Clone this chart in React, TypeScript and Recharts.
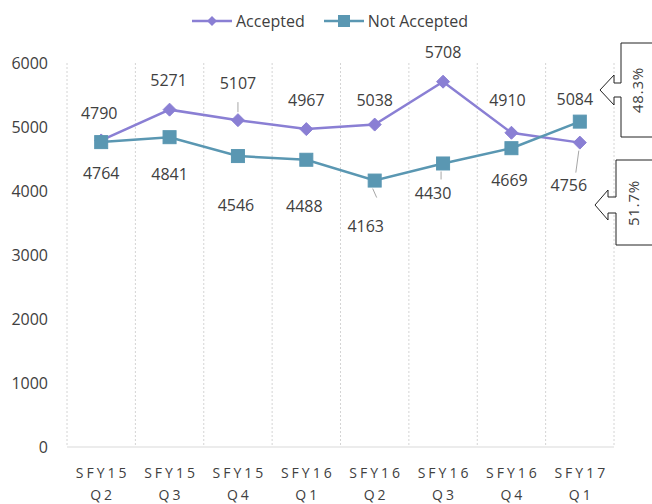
import React from 'react';
import { LineChart, Line, XAxis, YAxis, CartesianGrid, LabelList } from 'recharts';

const categories = ['SFY15 Q2', 'SFY15 Q3', 'SFY15 Q4', 'SFY16 Q1', 'SFY16 Q2', 'SFY16 Q3', 'SFY16 Q4', 'SFY17 Q1'];
const accepted = [4790, 5271, 5107, 4967, 5038, 5708, 4910, 4756];
const notAccepted = [4764, 4841, 4546, 4488, 4163, 4430, 4669, 5084];
const yTicks = [0, 1000, 2000, 3000, 4000, 5000, 6000];
const shareAccepted = '48.3%';
const shareNotAccepted = '51.7%';

// label placement (Excel-ish manual nudges)
const acceptedLabelDy = [-27, -30, -37, -29, -25, -30, -33, 42];
const acceptedLabelDx = [-2, -1, 0, 0, 0, 0, -4, -11];
const notAcceptedLabelDy = [31, 37, 49, 46, 45, 30, 32, -23];
const notAcceptedLabelDx = [0, 0, -2, -2, -9, -10, -2, -5];

const PURPLE = '#8a7fd4';
const TEAL = '#5a97b2';
const TEXT = '#404040';
const FONT = '"Open Sans", sans-serif';

const PLOT_W = 547;
const HALF_BAND = PLOT_W / categories.length / 2;

const data = categories.map((c, i) => ({
  name: c,
  Accepted: accepted[i],
  NotAccepted: notAccepted[i],
}));

const Diamond = (props: any) => {
  const { cx, cy } = props;
  if (cx == null || cy == null) return null;
  const r = 6.5;
  return (
    <path
      d={`M${cx},${cy - r} L${cx + r},${cy} L${cx},${cy + r} L${cx - r},${cy} Z`}
      fill={PURPLE}
      stroke={PURPLE}
    />
  );
};

const Square = (props: any) => {
  const { cx, cy } = props;
  if (cx == null || cy == null) return null;
  const s = 6.5;
  return <rect x={cx - s} y={cy - s} width={s * 2} height={s * 2} fill={TEAL} stroke={TEAL} />;
};

const makeLabel = (dys: number[], dxs: number[], leaders: { [k: number]: number[] }) => (props: any) => {
  const { x, y, value, index } = props;
  const lead = leaders[index];
  return (
    <g>
      {lead && (
        <line
          x1={x + lead[0]}
          y1={y + lead[1]}
          x2={x + lead[2]}
          y2={y + lead[3]}
          stroke="#a6a6a6"
          strokeWidth={1}
        />
      )}
      <text
        x={x + dxs[index]}
        y={y + dys[index]}
        textAnchor="middle"
        dominantBaseline="central"
        fontSize={16}
        fontFamily={FONT}
        fill={TEXT}
      >
        {value}
      </text>
    </g>
  );
};

const XTick = (props: any) => {
  const { x, y, payload } = props;
  const [line1, line2] = String(payload.value).split(' ');
  return (
    <g>
      <text x={x + 1.5} y={y + 23} textAnchor="middle" dominantBaseline="central" fontSize={14} letterSpacing={3} fontFamily={FONT} fill={TEXT}>
        {line1}
      </text>
      <text x={x + 1.5} y={y + 45} textAnchor="middle" dominantBaseline="central" fontSize={14} letterSpacing={3} fontFamily={FONT} fill={TEXT}>
        {line2}
      </text>
    </g>
  );
};

const LegendItem = ({ color, label, square }: { color: string; label: string; square?: boolean }) => (
  <div style={{ display: 'flex', alignItems: 'center', marginRight: 18 }}>
    <svg width={42} height={16}>
      <line x1={1} y1={8} x2={41} y2={8} stroke={color} strokeWidth={2.5} />
      {square ? (
        <rect x={15} y={2} width={12} height={12} fill={color} />
      ) : (
        <path d="M21,3 L26,8 L21,13 L16,8 Z" fill={color} />
      )}
    </svg>
    <span style={{ marginLeft: 3, fontSize: 16, color: TEXT, fontFamily: FONT }}>{label}</span>
  </div>
);

export default function App() {
  return (
    <div style={{ position: 'absolute', left: 0, top: 0, width: 652, height: 504, background: '#fff', overflow: 'hidden' }}>
      <div style={{ position: 'absolute', top: 9, left: 191, display: 'flex', alignItems: 'center', height: 24 }}>
        <LegendItem color={PURPLE} label="Accepted" />
        <LegendItem color={TEAL} label="Not Accepted" square />
      </div>
      <LineChart width={652} height={504} data={data} margin={{ top: 63, right: 38, bottom: 0, left: 0 }}>
        <CartesianGrid
          horizontal={false}
          stroke="#d4d4d4"
          strokeDasharray="2 2"
          verticalCoordinatesGenerator={({ offset }: any) =>
            categories.map((_, i) => offset.left + (offset.width * i) / categories.length).concat(offset.left + offset.width)
          }
        />
        <XAxis
          dataKey="name"
          axisLine={{ stroke: '#d9d9d9' }}
          tickLine={false}
          tickSize={0}
          tick={<XTick />}
          interval={0}
          height={57}
          padding={{ left: HALF_BAND, right: HALF_BAND }}
        />
        <YAxis
          domain={[0, 6000]}
          ticks={yTicks}
          axisLine={false}
          tickLine={false}
          tickSize={0}
          tickMargin={19}
          width={67}
          tick={{ fontSize: 16, fill: TEXT, fontFamily: FONT }}
        />
        <Line
          dataKey="Accepted"
          stroke={PURPLE}
          strokeWidth={2.5}
          dot={<Diamond />}
          activeDot={false}
          isAnimationActive={false}
        >
          <LabelList
            dataKey="Accepted"
            content={makeLabel(acceptedLabelDy, acceptedLabelDx, { 2: [0, -8, 0, -18], 7: [-1, 8, -4, 30] })}
          />
        </Line>
        <Line
          dataKey="NotAccepted"
          stroke={TEAL}
          strokeWidth={2.5}
          dot={<Square />}
          activeDot={false}
          isAnimationActive={false}
        >
          <LabelList
            dataKey="NotAccepted"
            content={makeLabel(notAcceptedLabelDy, notAcceptedLabelDx, { 4: [-2, 8, 2, 17], 5: [-2, 8, -2, 16] })}
          />
        </Line>
      </LineChart>
      <svg width={652} height={504} style={{ position: 'absolute', left: 0, top: 0, pointerEvents: 'none' }}>
        <path
          d="M660,43 L621,43 L621,83 L614,83 L614,75 L600,90 L614,105 L614,97 L621,97 L621,137 L660,137"
          fill="#fff"
          stroke="#222"
          strokeWidth={1}
        />
        <text x={637} y={90} transform="rotate(-90 637 90)" textAnchor="middle" dominantBaseline="central" fontSize={15} letterSpacing={0.8} fontFamily={FONT} fill={TEXT}>
          {shareAccepted}
        </text>
        <path
          d="M660,160 L616,160 L616,197 L608,197 L608,190 L595,205 L608,220 L608,213 L616,213 L616,245 L660,245"
          fill="#fff"
          stroke="#222"
          strokeWidth={1}
        />
        <text x={633} y={203} transform="rotate(-90 633 203)" textAnchor="middle" dominantBaseline="central" fontSize={15} letterSpacing={0.8} fontFamily={FONT} fill={TEXT}>
          {shareNotAccepted}
        </text>
      </svg>
    </div>
  );
}
